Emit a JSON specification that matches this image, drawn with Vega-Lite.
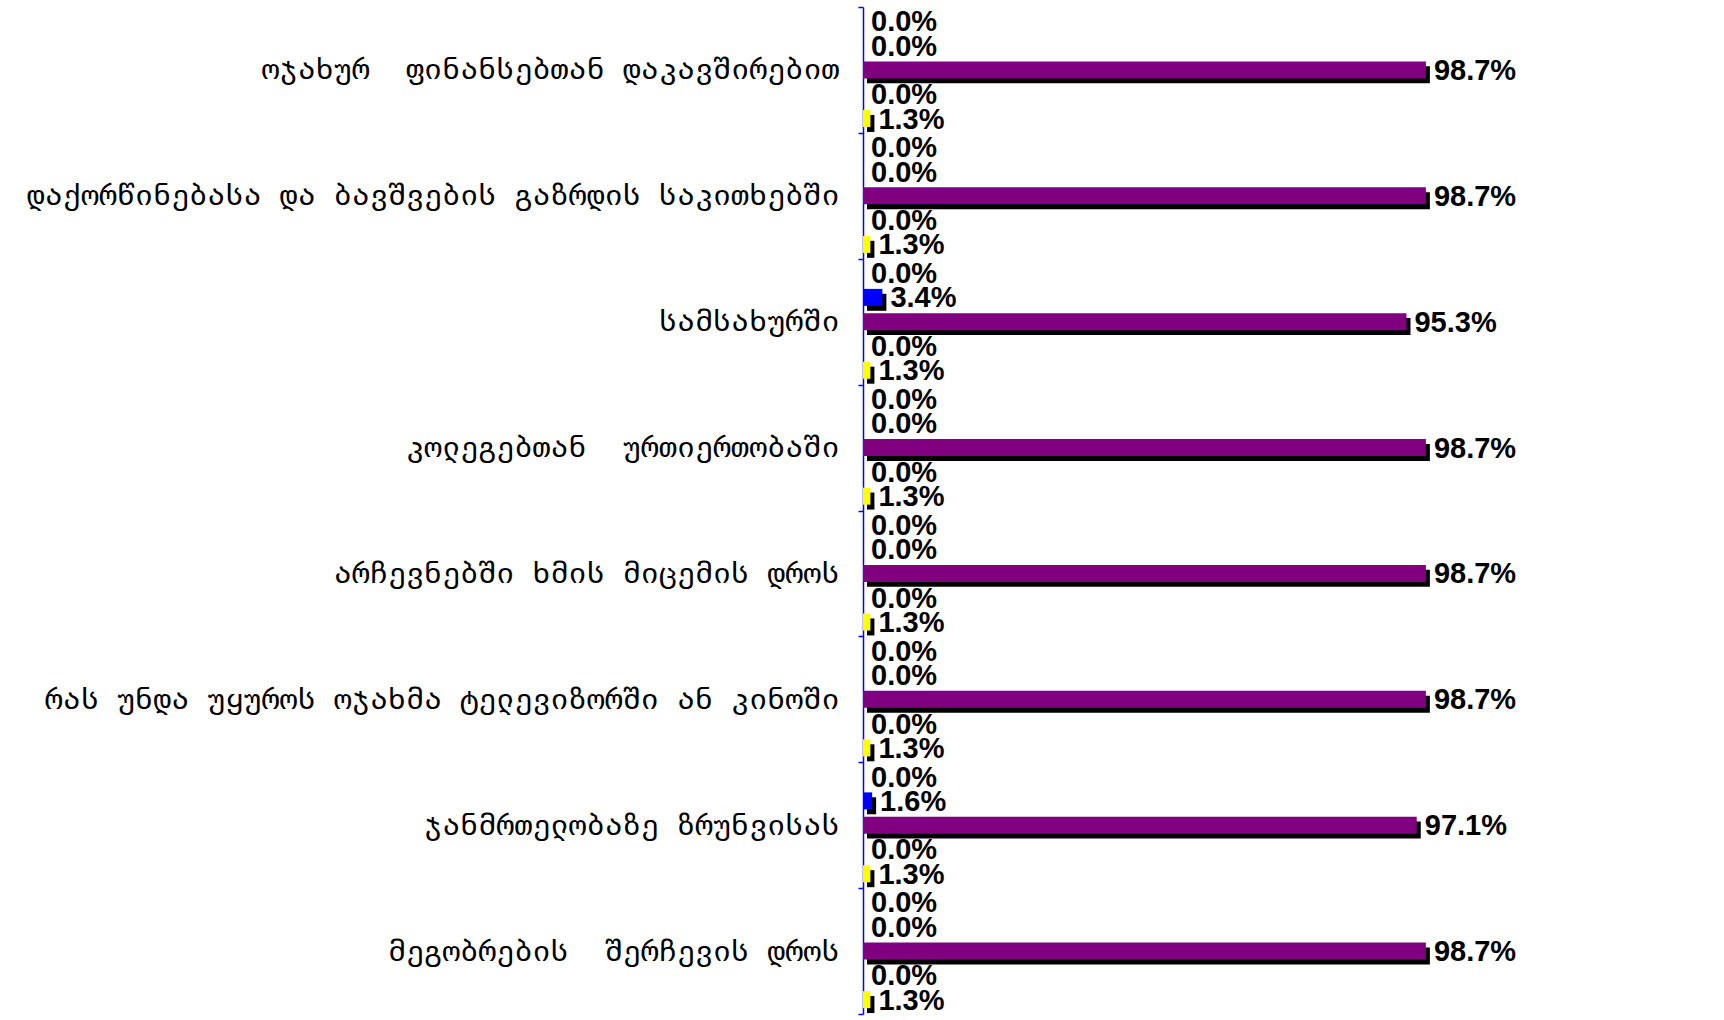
{
  "$schema": "https://vega.github.io/schema/vega-lite/v6.json",
  "width": 860,
  "height": 1007,
  "autosize": {"type": "none"},
  "padding": {"left": 863, "top": 7, "right": 1, "bottom": 6},
  "background": "white",
  "config": {"view": {"stroke": null}},
  "data": {"values": [
    {"cat": "ოჯახურ\u00a0 ფინანსებთან დაკავშირებით", "series": "s1", "v": 0.0},
    {"cat": "ოჯახურ\u00a0 ფინანსებთან დაკავშირებით", "series": "s2", "v": 0.0},
    {"cat": "ოჯახურ\u00a0 ფინანსებთან დაკავშირებით", "series": "s3", "v": 0.987},
    {"cat": "ოჯახურ\u00a0 ფინანსებთან დაკავშირებით", "series": "s4", "v": 0.0},
    {"cat": "ოჯახურ\u00a0 ფინანსებთან დაკავშირებით", "series": "s5", "v": 0.013},
    {"cat": "დაქორწინებასა და ბავშვების გაზრდის საკითხებში", "series": "s1", "v": 0.0},
    {"cat": "დაქორწინებასა და ბავშვების გაზრდის საკითხებში", "series": "s2", "v": 0.0},
    {"cat": "დაქორწინებასა და ბავშვების გაზრდის საკითხებში", "series": "s3", "v": 0.987},
    {"cat": "დაქორწინებასა და ბავშვების გაზრდის საკითხებში", "series": "s4", "v": 0.0},
    {"cat": "დაქორწინებასა და ბავშვების გაზრდის საკითხებში", "series": "s5", "v": 0.013},
    {"cat": "სამსახურში", "series": "s1", "v": 0.0},
    {"cat": "სამსახურში", "series": "s2", "v": 0.034},
    {"cat": "სამსახურში", "series": "s3", "v": 0.953},
    {"cat": "სამსახურში", "series": "s4", "v": 0.0},
    {"cat": "სამსახურში", "series": "s5", "v": 0.013},
    {"cat": "კოლეგებთან\u00a0 ურთიერთობაში", "series": "s1", "v": 0.0},
    {"cat": "კოლეგებთან\u00a0 ურთიერთობაში", "series": "s2", "v": 0.0},
    {"cat": "კოლეგებთან\u00a0 ურთიერთობაში", "series": "s3", "v": 0.987},
    {"cat": "კოლეგებთან\u00a0 ურთიერთობაში", "series": "s4", "v": 0.0},
    {"cat": "კოლეგებთან\u00a0 ურთიერთობაში", "series": "s5", "v": 0.013},
    {"cat": "არჩევნებში ხმის მიცემის დროს", "series": "s1", "v": 0.0},
    {"cat": "არჩევნებში ხმის მიცემის დროს", "series": "s2", "v": 0.0},
    {"cat": "არჩევნებში ხმის მიცემის დროს", "series": "s3", "v": 0.987},
    {"cat": "არჩევნებში ხმის მიცემის დროს", "series": "s4", "v": 0.0},
    {"cat": "არჩევნებში ხმის მიცემის დროს", "series": "s5", "v": 0.013},
    {"cat": "რას უნდა უყუროს ოჯახმა ტელევიზორში ან კინოში", "series": "s1", "v": 0.0},
    {"cat": "რას უნდა უყუროს ოჯახმა ტელევიზორში ან კინოში", "series": "s2", "v": 0.0},
    {"cat": "რას უნდა უყუროს ოჯახმა ტელევიზორში ან კინოში", "series": "s3", "v": 0.987},
    {"cat": "რას უნდა უყუროს ოჯახმა ტელევიზორში ან კინოში", "series": "s4", "v": 0.0},
    {"cat": "რას უნდა უყუროს ოჯახმა ტელევიზორში ან კინოში", "series": "s5", "v": 0.013},
    {"cat": "ჯანმრთელობაზე ზრუნვისას", "series": "s1", "v": 0.0},
    {"cat": "ჯანმრთელობაზე ზრუნვისას", "series": "s2", "v": 0.016},
    {"cat": "ჯანმრთელობაზე ზრუნვისას", "series": "s3", "v": 0.971},
    {"cat": "ჯანმრთელობაზე ზრუნვისას", "series": "s4", "v": 0.0},
    {"cat": "ჯანმრთელობაზე ზრუნვისას", "series": "s5", "v": 0.013},
    {"cat": "მეგობრების\u00a0 შერჩევის დროს", "series": "s1", "v": 0.0},
    {"cat": "მეგობრების\u00a0 შერჩევის დროს", "series": "s2", "v": 0.0},
    {"cat": "მეგობრების\u00a0 შერჩევის დროს", "series": "s3", "v": 0.987},
    {"cat": "მეგობრების\u00a0 შერჩევის დროს", "series": "s4", "v": 0.0},
    {"cat": "მეგობრების\u00a0 შერჩევის დროს", "series": "s5", "v": 0.013}
  ]},
  "encoding": {
    "y": {
      "field": "cat", "type": "nominal", "sort": null,
      "scale": {"paddingInner": 0, "paddingOuter": 0},
      "axis": {
        "title": null,
        "domainColor": "#0000FF", "domainWidth": 1.5,
        "tickColor": "#0000FF", "tickSize": 5, "tickWidth": 1.5, "tickBand": "extent",
        "labelFont": "DejaVu Sans Mono", "labelFontSize": 30, "labelColor": "black",
        "labelPadding": 19, "labelLimit": 0
      }
    },
    "x": {
      "field": "v", "type": "quantitative",
      "scale": {"domain": [0, 1.508], "nice": false, "zero": true},
      "axis": null
    }
  },
  "resolve": {"scale": {"yOffset": "independent"}},
  "layer": [
    {
      "mark": {"type": "bar", "color": "black", "xOffset": 4},
      "encoding": {
        "yOffset": {
          "field": "series", "type": "nominal", "sort": null,
          "scale": {"paddingInner": 0.3, "paddingOuter": 0.24, "align": 0.92}
        }
      }
    },
    {
      "encoding": {
        "yOffset": {
          "field": "series", "type": "nominal", "sort": null,
          "scale": {"paddingInner": 0.3, "paddingOuter": 0.24}
        }
      },
      "layer": [
        {
          "mark": {"type": "bar"},
          "encoding": {
            "color": {
              "field": "series", "type": "nominal",
              "scale": {"domain": ["s1", "s2", "s3", "s4", "s5"], "range": ["#00FFFF", "#0000FF", "#800080", "#FF00FF", "#FFFF00"]},
              "legend": null
            }
          }
        },
        {
          "mark": {"type": "text", "align": "left", "baseline": "middle", "dx": 8, "dy": 1, "font": "Liberation Sans", "fontWeight": "bold", "fontSize": 29, "color": "black"},
          "encoding": {
            "text": {"field": "v", "type": "quantitative", "format": ".1%"}
          }
        }
      ]
    }
  ]
}
